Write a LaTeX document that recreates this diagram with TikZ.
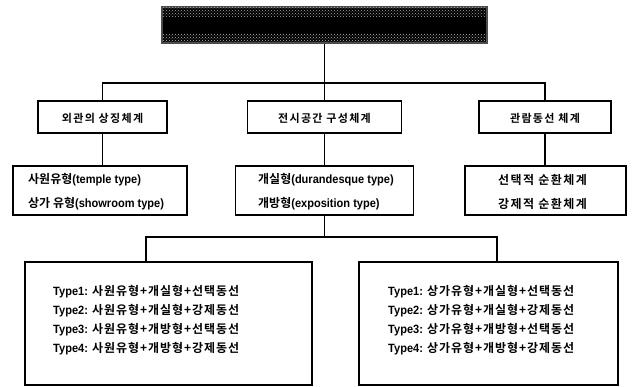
\documentclass[tikz,border=0pt]{standalone}
\usepackage{fontspec}
\setmainfont{Liberation Sans}[FakeStretch=0.92,BoldFont={Liberation Sans Bold},BoldFeatures={FakeStretch=0.92}]
\newfontfamily\kr{Noto Sans CJK KR}[BoldFont={Noto Sans CJK KR Bold}]
\newfontfamily\krsp{Noto Sans CJK KR}[LetterSpace=12,BoldFont={Noto Sans CJK KR Bold},BoldFeatures={LetterSpace=12}]
\newfontfamily\krfour{Noto Sans CJK KR}[LetterSpace=8,BoldFont={Noto Sans CJK KR Bold},BoldFeatures={LetterSpace=8}]
\newcommand\K[1]{{\kr\bfseries #1}}
\newcommand\KF[1]{{\krfour\bfseries #1}}
\usetikzlibrary{patterns}
\begin{document}
\begin{tikzpicture}[x=1pt,y=-1pt,
  box/.style={draw=black,line width=1.2pt,rectangle,inner sep=0pt},
  conn/.style={draw=black,line width=1.2pt},
  lbl/.style={inner sep=0pt,font=\fontsize{11}{14}\selectfont\bfseries},
  txt/.style={anchor=west,align=left,inner sep=0pt,font=\fontsize{12}{24}\selectfont\bfseries},
  txtfour/.style={anchor=west,align=left,inner sep=0pt,font=\fontsize{12}{19}\selectfont\bfseries}]
\useasboundingbox (0,0) rectangle (636,387);
% title box (unreadable dark block)
\node[box,fill=black,draw=gray!60!black,minimum width=325pt,minimum height=36pt] (top) at (324.5,25) {};
\fill[pattern=crosshatch dots,pattern color=gray!70] (163,8) rectangle (486,17);
\fill[pattern=crosshatch dots,pattern color=gray!55] (163,34) rectangle (486,42);
% level 2
\node[box,minimum width=129pt,minimum height=32pt] (l2a) at (102.5,117) {};
\node[lbl] (t2a) at (102.5,118.5) {\krsp\bfseries 외관의 상징체계};
\node[box,minimum width=154pt,minimum height=32pt] (l2b) at (324.5,117) {};
\node[lbl] (t2b) at (324.5,118.5) {\krsp\bfseries 전시공간 구성체계};
\node[box,minimum width=132pt,minimum height=32pt] (l2c) at (545,117) {};
\node[lbl] (t2c) at (545,118.5) {\krsp\bfseries 관람동선 체계};
% level 3
\node[box,minimum width=174pt,minimum height=49pt] (l3a) at (100,190.5) {};
\node[txt] (t3a) at (28,192) {\K{사원유형}(temple type)\\\K{상가 유형}(showroom type)};
\node[box,minimum width=178pt,minimum height=49pt] (l3b) at (324.5,190.5) {};
\node[txt] (t3b) at (258,192) {\K{개실형}(durandesque type)\\\K{개방형}(exposition type)};
\node[box,minimum width=161pt,minimum height=49pt] (l3c) at (545.5,190.5) {};
\node[txt] (t3c) at (498,192) {{\krsp\bfseries 선택적 순환체계}\\{\krsp\bfseries 강제적 순환체계}};
% level 4
\node[box,minimum width=287pt,minimum height=123pt] (l4a) at (168.5,323.5) {};
\node[txtfour] (t4a) at (53,320) {Type1: \KF{사원유형+개실형+선택동선}\\Type2: \KF{사원유형+개실형+강제동선}\\Type3: \KF{사원유형+개방형+선택동선}\\Type4: \KF{사원유형+개방형+강제동선}};
\node[box,minimum width=259pt,minimum height=123pt] (l4b) at (488.5,323.5) {};
\node[txtfour] (t4b) at (388,320) {Type1: \KF{상가유형+개실형+선택동선}\\Type2: \KF{상가유형+개실형+강제동선}\\Type3: \KF{상가유형+개방형+선택동선}\\Type4: \KF{상가유형+개방형+강제동선}};
% connectors
\coordinate (b1) at (324.5,83);
\draw[conn] (top.south) -- (b1);
\draw[conn] (l2a.north) |- (b1) -| (l2c.north);
\draw[conn] (b1) -- (l2b.north);
\draw[conn] (l2a.south) -- (l2a.south |- l3a.north);
\draw[conn] (l2b.south) -- (l2b.south |- l3b.north);
\draw[conn] (l2c.south) -- (l2c.south |- l3c.north);
\coordinate (b2) at (324.5,237);
\coordinate (b2l) at (146,237);
\coordinate (b2r) at (497,237);
\draw[conn] (l3b.south) -- (b2);
\draw[conn] (b2l |- l4a.north) |- (b2) -| (b2r |- l4b.north);
\end{tikzpicture}
\end{document}
